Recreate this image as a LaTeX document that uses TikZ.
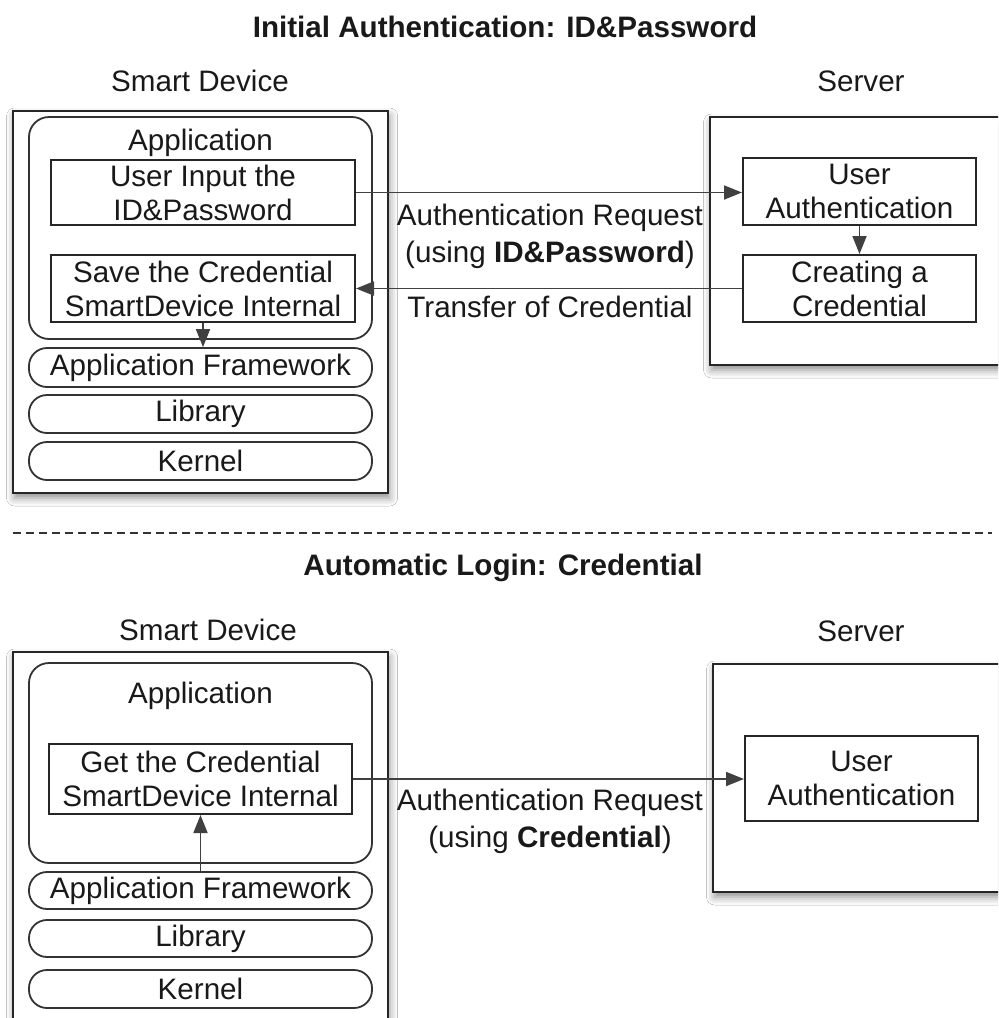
\documentclass[tikz,border=0pt]{standalone}
\usepackage{fontspec}
\setmainfont{Liberation Sans}
\usetikzlibrary{fit,arrows.meta,shadows.blur}

\begin{document}
\begin{tikzpicture}[x=0.5pt,y=-0.5pt,
  every node/.style={font=\fontsize{14.8}{17}\selectfont, text=black!90},
  outer/.style={draw=black!85, line width=1.3pt, fill=white, inner sep=0pt,
    blur shadow={shadow xshift=0.8pt, shadow yshift=-2.5pt, shadow blur radius=4pt, shadow opacity=45}},
  appbox/.style={draw=black!80, line width=0.9pt, rounded corners=10pt, inner sep=0pt},
  sized/.style 2 args={minimum width={#1*0.5pt}, minimum height={#2*0.5pt}},
  layer/.style={draw=black!80, line width=0.9pt, rounded corners=9pt, inner sep=0pt, sized={343}{#1}},
  stepbox/.style={draw=black!85, line width=1pt, inner sep=0pt, align=center},
  conn/.style={draw=black!75, line width=0.9pt, -{Triangle[length=9pt,width=7pt]}},
  lbl/.style={align=center, inner sep=0pt, font=\fontsize{14.8}{18.5}\selectfont},
  head/.style={font=\fontsize{14.8}{17}\selectfont\bfseries, anchor=base},
  side/.style={anchor=base}
]
\useasboundingbox (0,0) rectangle (998,1018);
\fill[white] (0,0) rectangle (998,1018);
\clip (0,0) rectangle (998,1018);

% ---------- Initial authentication ----------
\node[head] (t1) at (505,37) {Initial Authentication: ID\&Password};
\node[side] (sd1) at (200,91) {Smart Device};
\node[side] (sv1) at (861,91) {Server};

\node[outer, fit={(13,111) (388,493)}] (dev1) {};
\node[appbox, fit={(29,117) (372,339)}] (app1) {};
\node[side] (app1t) at (200.5,150.5) {Application};
\node[stepbox, sized={304}{65}] (in1) at (203,192.5) {User Input the\\ID\&Password};
\node[stepbox, sized={304}{67}] (save1) at (203,288.5) {Save the Credential\\SmartDevice Internal};
\node[layer=39] (fw1) at (200.5,367.5) {Application Framework};
\node[layer=38] (lib1) at (200.5,414) {Library};
\node[layer=38] (ker1) at (200.5,461) {Kernel};

\node[outer, fit={(710,117) (1010,365)}] (srv1) {};
\node[stepbox, sized={233}{67}] (ua1) at (859.5,191.5) {User\\Authentication};
\node[stepbox, sized={233}{67}] (cr1) at (859.5,288.5) {Creating a\\Credential};

\draw[conn] (in1.east) -- (in1.east -| ua1.west);
\draw[conn] (cr1.west) -- (cr1.west -| save1.east);
\draw[conn] (ua1.south) -- (cr1.north);
\draw[conn] (save1.south) -- (save1.south |- fw1.north);

\node[lbl] (req1) at (550,236) {Authentication Request\\(using \textbf{ID\&Password})};
\node[side] (tr1) at (550,317.5) {Transfer of Credential};

% ---------- separator ----------
\draw[black!80, line width=1pt, dash pattern=on 4pt off 2.5pt] (13,533) -- (992,533);

% ---------- Automatic login ----------
\node[head] (t2) at (503,575.5) {Automatic Login: Credential};
\node[side] (sd2) at (208,640.5) {Smart Device};
\node[side] (sv2) at (861,641) {Server};

\node[outer, fit={(13,652) (388,1040)}] (dev2) {};
\node[appbox, fit={(29,663) (372,863)}] (app2) {};
\node[side] (app2t) at (200.5,703.5) {Application};
\node[stepbox, sized={303}{70}] (get2) at (200.5,779) {Get the Credential\\SmartDevice Internal};
\node[layer=37] (fw2) at (200.5,890.5) {Application Framework};
\node[layer=37] (lib2) at (200.5,938.5) {Library};
\node[layer=38] (ker2) at (200.5,989) {Kernel};

\node[outer, fit={(713,664) (1010,892)}] (srv2) {};
\node[stepbox, sized={233}{85}] (ua2) at (861.5,778.5) {User\\Authentication};

\draw[conn] (get2.east) -- (get2.east -| ua2.west);
\draw[conn] (fw2.north -| get2.south) -- (get2.south);

\node[lbl] (req2) at (550,821.5) {Authentication Request\\(using \textbf{Credential})};
\end{tikzpicture}
\end{document}
